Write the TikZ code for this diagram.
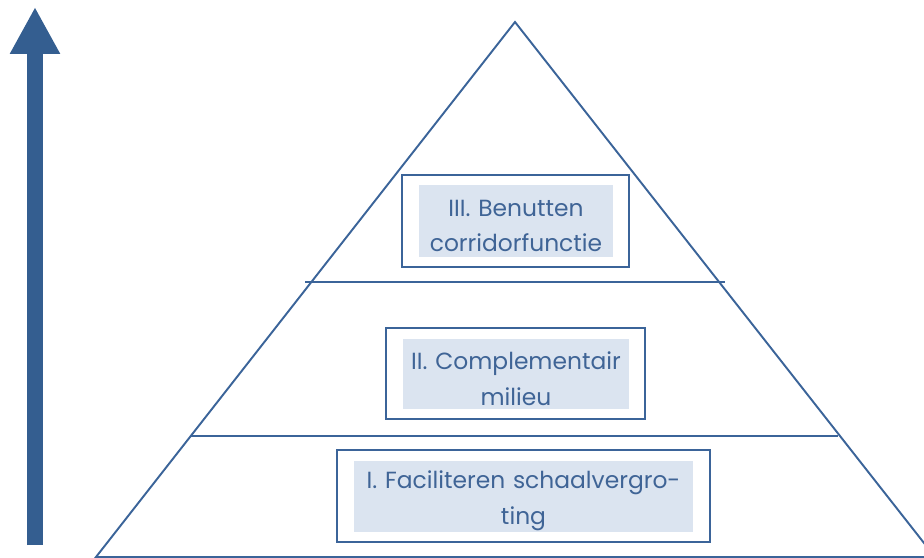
\documentclass[tikz,border=0pt]{standalone}
\usepackage{fontspec}
\setmainfont{Poppins}
\usetikzlibrary{arrows.meta}
\definecolor{pyrline}{HTML}{3B6499}
\definecolor{pyrarrow}{HTML}{345E90}
\definecolor{pyrtext}{HTML}{3F6496}
\definecolor{pyrfill}{HTML}{DBE4F0}
\tikzset{
  pyr/.style={draw=pyrline, line width=1.1pt, line join=miter},
  tierbox/.style={draw=pyrline, line width=1.3pt, inner sep=0pt},
  tierfill/.style={fill=pyrfill, inner sep=0pt},
  tiertext/.style={text=pyrtext, inner sep=0pt, align=center, text width=7cm,
    font=\fontsize{13.3}{20.4}\selectfont}
}
\begin{document}
\begin{tikzpicture}[x=0.02cm, y=-0.02cm]
    \useasboundingbox (0,0) rectangle (924,558);
    % rising arrow on the left
    \coordinate (up0) at (35,545);
    \coordinate (up1) at (35,7);
    \draw[pyrarrow, line width=0.32cm,
      -{Triangle[length=0.94cm, width=0.94cm]}] (up0) -- (up1);
    % pyramid outline and tier lines
    \coordinate (apex) at (515,22);
    \coordinate (baseL) at (96,557);
    \coordinate (baseR) at (935,557);
    \draw[pyr] (baseL) -- (apex) -- (baseR) -- cycle;
    \coordinate (t2L) at (305,282);
    \coordinate (t2R) at (725,282);
    \coordinate (t1L) at (191,436);
    \coordinate (t1R) at (838,436);
    \draw[pyr] (t2L) -- (t2R);
    \draw[pyr] (t1L) -- (t1R);
    % tier III
    \node[tierbox, minimum width=4.54cm, minimum height=1.84cm] (boxIII) at (515.5,221) {};
    \node[tierfill, minimum width=3.88cm, minimum height=1.44cm] (fillIII) at (516,221) {};
    \node[tiertext] (labIII) at (516,226) {III. Benutten\\corridorfunctie};
    % tier II
    \node[tierbox, minimum width=5.18cm, minimum height=1.82cm] (boxII) at (515.5,373.5) {};
    \node[tierfill, minimum width=4.52cm, minimum height=1.40cm] (fillII) at (516,374) {};
    \node[tiertext] (labII) at (516,379) {II. Complementair\\milieu};
    % tier I
    \node[tierbox, minimum width=7.46cm, minimum height=1.84cm] (boxI) at (523.5,496) {};
    \node[tierfill, minimum width=6.78cm, minimum height=1.42cm] (fillI) at (523.5,496.5) {};
    \node[tiertext] (labI) at (523.5,501) {I. Faciliteren schaalvergro-\\ting};
\end{tikzpicture}
\end{document}
